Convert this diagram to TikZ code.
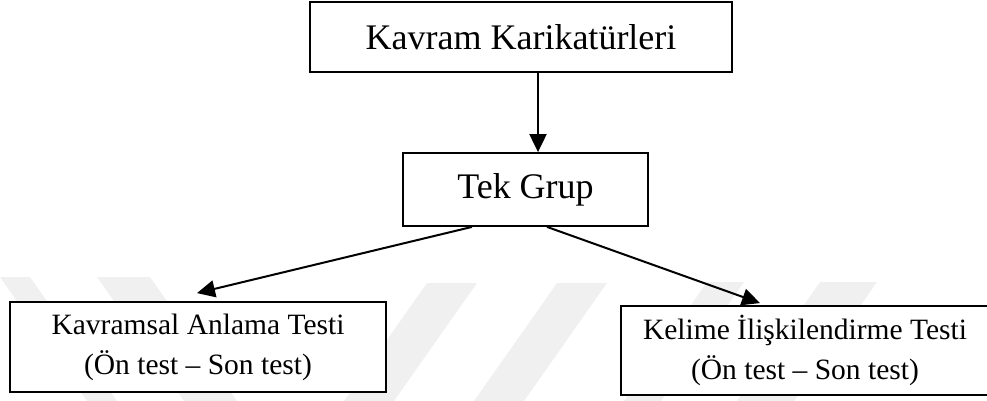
\documentclass[tikz,border=0pt]{standalone}
\usepackage{fontspec}
\setmainfont{Liberation Serif}
\usetikzlibrary{arrows.meta}
\begin{document}
\begin{tikzpicture}[x=1pt,y=-1pt,
  box/.style={draw=black,line width=1.8pt,fill=white,inner sep=0pt,align=center},
  big/.style={font=\fontsize{36}{40}\selectfont},
  small/.style={font=\fontsize{29.5}{40}\selectfont},
  arr/.style={line width=2pt,-{Triangle[length=18pt,width=17pt]}},
  wm/.style={fill=black!6,draw=none}]
\useasboundingbox (0,0) rectangle (987,401);
% faint watermark bands
\fill[wm] (0,277) -- (30,277) -- (117,401) -- (87,401) -- cycle;
\fill[wm] (97,277) -- (150,277) -- (237,401) -- (184,401) -- cycle;
\fill[wm] (427,283) -- (477,283) -- (394,401) -- (344,401) -- cycle;
\fill[wm] (557,283) -- (607,283) -- (524,401) -- (474,401) -- cycle;
\fill[wm] (707,282) -- (744,282) -- (661,401) -- (624,401) -- cycle;
\fill[wm] (820,282) -- (877,282) -- (794,401) -- (737,401) -- cycle;
% boxes
\node[box,big,minimum width=422pt,minimum height=70pt] (top) at (521,37) {Kavram Karikatürleri};
\node[box,big,minimum width=245pt,minimum height=73pt] (tek) at (525.5,189.5) {Tek Grup};
\node[box,small,minimum width=376pt,minimum height=90pt] (left) at (198,347) {Kavramsal Anlama Testi\\(Ön test – Son test)};
\node[box,small,minimum width=368pt,minimum height=89pt] (right) at (805,350.5) {Kelime İlişkilendirme Testi\\(Ön test – Son test)};
% connectors
\draw[arr] ([xshift=17pt]top.south) -- ([xshift=12.5pt]tek.north);
\draw[arr] ([xshift=-53.5pt]tek.south) -- ([xshift=-1pt,yshift=8pt]left.north);
\draw[arr] ([xshift=21.5pt]tek.south) -- ([xshift=-45pt,yshift=2pt]right.north);
\end{tikzpicture}
\end{document}
